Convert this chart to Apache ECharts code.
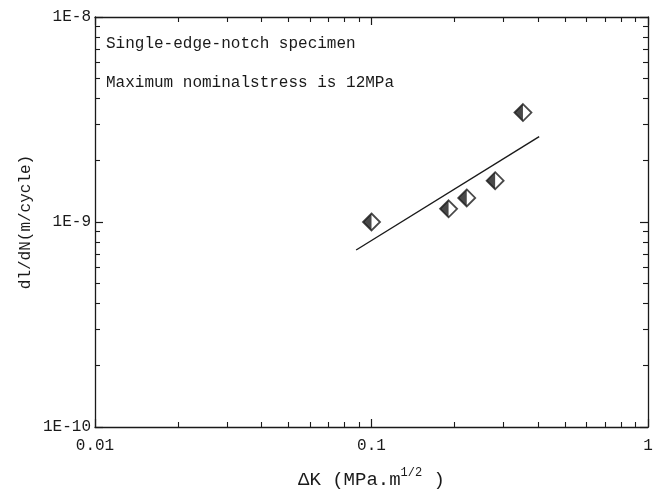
<!DOCTYPE html>
<html>
<head>
<meta charset="utf-8">
<script src="https://cdn.jsdelivr.net/npm/echarts@6/dist/echarts.min.js"></script>
<style>
  html, body { margin: 0; padding: 0; background: #fff; }
  #chart { width: 659px; height: 489px; }
</style>
</head>
<body>
<div id="chart"></div>
<script>
// data
var deltaK = [0.1, 0.19, 0.221, 0.28, 0.353];
var dldN = [1.0e-9, 1.16e-9, 1.31e-9, 1.59e-9, 3.42e-9];
var fitK = [0.088, 0.404];
var fitRate = [7.3e-10, 2.61e-9];

var xTicks = [0.01, 0.1, 1];
var xTickLabels = ['0.01', '0.1', '1'];
var yTicks = [1e-10, 1e-9, 1e-8];
var yTickLabels = ['1E-10', '1E-9', '1E-8'];
var minorSteps = [2, 3, 4, 5, 6, 7, 8, 9];

var FONT = '"Liberation Mono", "DejaVu Sans Mono", monospace';
var INK = '#1a1a1a';

function labelOf(ticks, labels) {
    return function (v) {
        for (var i = 0; i < ticks.length; i++) {
            if (Math.abs(Math.log10(v) - Math.log10(ticks[i])) < 1e-6) return labels[i];
        }
        return '';
    };
}

// minor tick positions in log space (2..9 in each decade)
function minorLogs(lo, hi) {
    var out = [];
    for (var d = lo; d < hi; d++) {
        minorSteps.forEach(function (m) { out.push(d + Math.log10(m)); });
    }
    return out;
}

var xPairs = deltaK.map(function (k, i) { return [k, dldN[i]]; });
var fitPairs = fitK.map(function (k, i) { return [k, fitRate[i]]; });

function majorAxis(type, pos, lo, hi, withLabels, labelFn) {
    return {
        type: 'log', logBase: 10, position: pos, min: lo, max: hi, interval: 1,
        axisLine: { show: true, onZero: false, lineStyle: { color: INK, width: 1.3 } },
        axisTick: { show: true, inside: true, length: 8, lineStyle: { color: INK, width: 1.2 } },
        axisLabel: withLabels ? {
            show: true, color: INK, fontFamily: FONT, fontSize: 16,
            margin: type === 'x' ? 11 : 4, formatter: labelFn
        } : { show: false },
        splitLine: { show: false }
    };
}

function minorAxis(pos, lo, hi) {
    return {
        type: 'value', position: pos, min: lo, max: hi,
        axisLine: { show: false, onZero: false },
        axisTick: { show: true, inside: true, length: 5, customValues: minorLogs(lo, hi),
            lineStyle: { color: INK, width: 1.1 } },
        axisLabel: { show: false },
        splitLine: { show: false }
    };
}

var chart = echarts.init(document.getElementById('chart'));

var xMain = majorAxis('x', 'bottom', 0.01, 1, true, labelOf(xTicks, xTickLabels));
xMain.name = '{a|ΔK (MPa.m}{s|1/2}{a| )}';
xMain.nameLocation = 'middle';
xMain.nameGap = 40;
xMain.nameMoveOverlap = false;
xMain.nameTextStyle = {
    rich: {
        a: { fontFamily: FONT, fontSize: 19, color: INK },
        s: { fontFamily: FONT, fontSize: 12, color: INK, padding: [0, 0, 14, 0] }
    }
};

var yMain = majorAxis('y', 'left', 1e-10, 1e-8, true, labelOf(yTicks, yTickLabels));
yMain.name = 'dl/dN(m/cycle)';
yMain.nameLocation = 'middle';
yMain.nameGap = 61;
yMain.nameMoveOverlap = false;
yMain.nameTextStyle = { fontFamily: FONT, fontSize: 16, color: INK };

chart.setOption({
    backgroundColor: '#fff',
    animation: false,
    grid: { left: 95, right: 11, top: 17, bottom: 62, outerBoundsMode: 'none', containLabel: false },
    xAxis: [
        xMain,
        minorAxis('bottom', -2, 0),
        majorAxis('x', 'top', 0.01, 1, false),
        minorAxis('top', -2, 0)
    ],
    yAxis: [
        yMain,
        minorAxis('left', -10, -8),
        majorAxis('y', 'right', 1e-10, 1e-8, false),
        minorAxis('right', -10, -8)
    ],
    graphic: [
        { type: 'text', left: 106, top: 36,
          style: { text: 'Single-edge-notch specimen', font: '16px ' + FONT, fill: INK } },
        { type: 'text', left: 106, top: 75,
          style: { text: 'Maximum nominalstress is 12MPa', font: '16px ' + FONT, fill: INK } }
    ],
    series: [
        {
            type: 'line', data: fitPairs, showSymbol: false, symbol: 'none',
            lineStyle: { color: INK, width: 1.4 }, z: 2
        },
        {
            // white diamond with black outline
            type: 'scatter', data: xPairs, symbol: 'diamond', symbolSize: 17,
            itemStyle: { color: '#fff', borderColor: INK, borderWidth: 1.8 }, z: 3
        },
        {
            // left half filled black
            type: 'scatter', data: xPairs, symbol: 'path://M10,0 L10,20 L0,10 Z',
            symbolSize: [8.5, 17], symbolOffset: [-4.25, 0],
            itemStyle: { color: INK }, z: 4
        }
    ]
});
</script>
</body>
</html>
